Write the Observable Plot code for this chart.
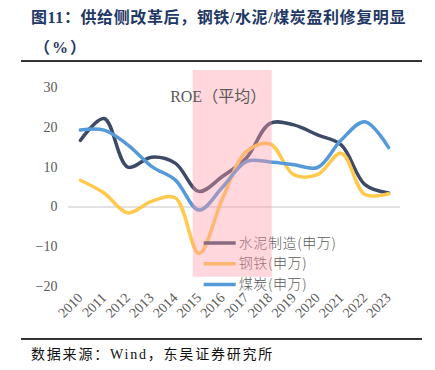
<!DOCTYPE html>
<html><head><meta charset="utf-8">
<script src="https://cdn.jsdelivr.net/npm/d3@7"></script>
<script src="https://cdn.jsdelivr.net/npm/@observablehq/plot@0.6"></script>
<style>
body{margin:0;background:#fff;}
#wrap{position:relative;width:435px;height:370px;overflow:hidden;font-family:"Liberation Serif","Noto Sans CJK SC",serif;}
.title{position:absolute;left:31px;font-family:"Liberation Serif","Noto Sans CJK SC",serif;font-weight:700;font-size:16px;color:#1f3864;letter-spacing:0.6px;white-space:nowrap;}
.rule{position:absolute;left:21px;width:401px;height:2px;background:#333;}
#src{position:absolute;left:31px;top:343px;font-size:14px;letter-spacing:1.8px;color:#111;white-space:nowrap;font-family:"Liberation Serif","Noto Sans CJK SC",serif;}
#chart{position:absolute;left:0;top:65px;}
</style></head>
<body>
<div id="wrap">
  <div class="title" style="top:4px">图11：供给侧改革后，钢铁/水泥/煤炭盈利修复明显</div>
  <div class="title" style="top:34px;left:34px;letter-spacing:2px">（%）</div>
  <div class="rule" style="top:60px"></div>
  <div id="chart"></div>
  <div class="rule" style="top:338px"></div>
  <div id="src">数据来源：Wind，东吴证券研究所</div>
</div>
<script>
const years = [2010,2011,2012,2013,2014,2015,2016,2017,2018,2019,2020,2021,2022,2023];
const cement = [16.7,22.2,10.0,12.5,11.0,3.9,7.7,12.3,21.0,20.6,18.1,15.6,5.6,3.5];
const steel  = [6.7,3.5,-1.5,1.4,2.3,-11.7,2.2,13.9,15.8,8.1,8.1,13.5,3.1,3.3];
const coal   = [19.3,19.3,15.6,10.2,6.8,-0.8,5.0,11.4,11.3,10.6,9.9,16.8,21.4,14.9];
const seriesNames = ["水泥制造(申万)","钢铁(申万)","煤炭(申万)"];
const seriesColors = ["#3d4a66","#ffc94d","#559ad8"];
const yTicks = [-20,-10,0,10,20,30];
const bandYears = [2014.76, 2018.09];
const bandVals = [-17.7, 34.3];
const roeLabel = "ROE（平均）";
const roePos = [2015.81, 27.6];
const legendX = [2015.2, 2016.55, 2016.68];
const legendY = [-9.1, -14.3, -19.5];

const rows = [];
[cement, steel, coal].forEach((arr, i) => arr.forEach((v, j) => rows.push({s: seriesNames[i], year: years[j], v})));
const legend = seriesNames.map((s, i) => ({s, y: legendY[i]}));

const chart = Plot.plot({
  width: 435, height: 270,
  marginLeft: 68, marginRight: 35, marginTop: 22, marginBottom: 49,
  style: {fontFamily: '"Liberation Serif","Noto Sans CJK SC",serif', fontSize: "14px", color: "#595959", background: "transparent"},
  x: {domain: [2009.5, 2023.5], ticks: years, tickFormat: d => String(d), tickSize: 0, tickPadding: 9, tickRotate: -45, label: null},
  y: {domain: [-20, 30], ticks: yTicks, tickSize: 0, tickPadding: 11, label: null},
  color: {domain: seriesNames, range: seriesColors},
  marks: [
    Plot.ruleY([0], {stroke: "#d9d9d9", strokeWidth: 1.5}),
    Plot.line(rows, {x: "year", y: "v", stroke: "s", z: "s", curve: "catmull-rom", strokeWidth: 3.5, strokeLinecap: "round"}),
    Plot.link(legend, {x1: legendX[0], x2: legendX[1], y1: "y", y2: "y", stroke: "s", strokeWidth: 3.5}),
    Plot.text(legend, {x: legendX[2], y: "y", text: "s", textAnchor: "start", fill: "#595959", fontSize: 14, fontWeight: 300, fontFamily: '"Noto Sans CJK SC",sans-serif', style: "letter-spacing:0.6px"}),
    Plot.rectY([{}], {x1: bandYears[0], x2: bandYears[1], y1: bandVals[0], y2: bandVals[1], fill: "#ff9aa8", fillOpacity: 0.4}),
    Plot.text([roeLabel], {x: roePos[0], y: roePos[1], text: d => d, fill: "#595959", fontSize: 16})
  ]
});
chart.querySelectorAll("text").forEach(t => { if (t.textContent.includes("申万")) t.style.letterSpacing = "0.6px"; });
document.getElementById("chart").appendChild(chart);
</script>
</body></html>
